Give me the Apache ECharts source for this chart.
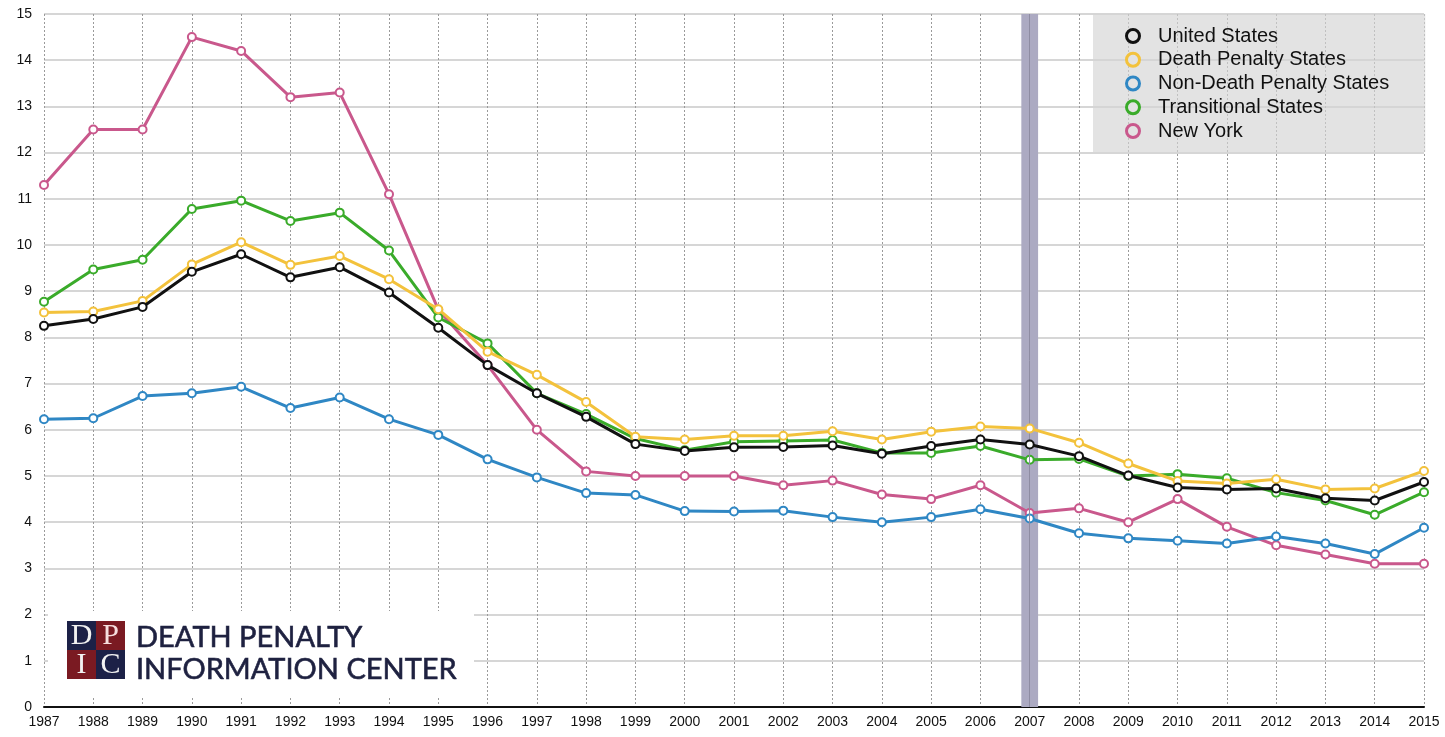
<!DOCTYPE html>
<html><head><meta charset="utf-8">
<script src="https://cdn.jsdelivr.net/npm/echarts@6/dist/echarts.min.js"></script>
<style>html,body{margin:0;padding:0;background:#fff}#c{width:1445px;height:737px}</style>
</head><body><div id="c"></div>
<script>
const years = [1987,1988,1989,1990,1991,1992,1993,1994,1995,1996,1997,1998,1999,2000,2001,2002,2003,2004,2005,2006,2007,2008,2009,2010,2011,2012,2013,2014,2015];
const seriesNames = ['United States','Death Penalty States','Non-Death Penalty States','Transitional States','New York'];
const unitedStates = [8.25,8.4,8.66,9.42,9.8,9.3,9.52,8.97,8.21,7.4,6.79,6.28,5.69,5.54,5.62,5.63,5.66,5.48,5.65,5.79,5.68,5.43,5.01,4.75,4.71,4.73,4.52,4.47,4.87];
const deathPenaltyStates = [8.54,8.56,8.79,9.58,10.06,9.57,9.76,9.26,8.61,7.69,7.19,6.6,5.85,5.79,5.87,5.87,5.97,5.79,5.96,6.07,6.03,5.72,5.27,4.89,4.84,4.93,4.71,4.73,5.11];
const nonDeathPenaltyStates = [6.23,6.25,6.73,6.79,6.93,6.47,6.7,6.23,5.89,5.36,4.97,4.63,4.59,4.24,4.23,4.25,4.11,4.0,4.11,4.28,4.08,3.76,3.65,3.6,3.54,3.69,3.54,3.31,3.88];
const transitionalStates = [8.77,9.47,9.68,10.78,10.96,10.52,10.7,9.88,8.43,7.87,6.79,6.34,5.81,5.56,5.74,5.76,5.78,5.5,5.5,5.65,5.35,5.37,5.0,5.04,4.95,4.64,4.47,4.16,4.65];
const newYork = [11.3,12.5,12.5,14.5,14.2,13.2,13.3,11.1,8.6,7.4,6.0,5.1,5.0,5.0,5.0,4.8,4.9,4.6,4.5,4.8,4.2,4.3,4.0,4.5,3.9,3.5,3.3,3.1,3.1];
const highlightYear = 2007;

const colors = ['#111111','#f3c23c','#2f87c4','#3aab2a','#c9588c'];
const values = [unitedStates, deathPenaltyStates, nonDeathPenaltyStates, transitionalStates, newYork];
const zs = [6,5,4,3,2];

const chart = echarts.init(document.getElementById('c'), null, {renderer:'canvas'});
const lineSeries = seriesNames.map((n,i)=>({
  name: n, type:'line', z: zs[i],
  data: years.map((y,k)=>[y, values[i][k]]),
  symbol:'emptyCircle', symbolSize:8,
  lineStyle:{color:colors[i], width:3},
  itemStyle:{color:colors[i], borderColor:colors[i], borderWidth:2},
  emphasis:{disabled:true}
}));
lineSeries.push({
  name:'band', type:'line', data:[], z:1, silent:true,
  markArea:{silent:true, itemStyle:{color:'#acaac2'}, data:[[{xAxis:highlightYear-0.17},{xAxis:highlightYear+0.17}]]},
  markLine:{silent:true, symbol:'none', label:{show:false}, lineStyle:{color:'#8e8ca2', width:1, type:'solid'}, data:[{xAxis:highlightYear}]}
});

const serif = '30px "Liberation Serif", serif';
chart.setOption({
  animation:false,
  backgroundColor:'#ffffff',
  grid:{left:44, right:21, top:14, bottom:30, containLabel:false},
  xAxis:{type:'value', min:1987, max:2015, interval:1,
    axisLine:{show:true, lineStyle:{color:'#111', width:2}},
    axisTick:{show:false},
    axisLabel:{color:'#111', fontSize:14, fontFamily:'Liberation Sans, Arial, sans-serif', margin:8, formatter:v=>String(v)},
    splitLine:{show:true, lineStyle:{color:'#9a9a9a', width:1, type:[2,2]}}
  },
  yAxis:{type:'value', min:0, max:15, interval:1,
    axisLine:{show:false}, axisTick:{show:false},
    axisLabel:{color:'#111', fontSize:14, fontFamily:'Liberation Sans, Arial, sans-serif', margin:12},
    splitLine:{show:true, lineStyle:{color:'#c9c9c9', width:1.5}}
  },
  legend:{
    orient:'vertical', left:1093, top:14,
    padding:[12,36,11,32],
    backgroundColor:'rgba(212,212,212,0.65)',
    itemWidth:40, itemHeight:13, itemGap:3.75,
    icon:'circle',
    textStyle:{fontSize:20, lineHeight:20, color:'#111', fontFamily:'Liberation Sans, Arial, sans-serif'},
    data: seriesNames.map((n,i)=>({name:n, icon:'circle', itemStyle:{color:'#e3e3e3', borderColor:colors[i], borderWidth:3}})),
    selectedMode:false
  },
  graphic:[
    {type:'rect', x:48, y:611, silent:true, z:10, shape:{width:426, height:86}, style:{fill:'#ffffff'}},
    {type:'rect', x:67, y:621, silent:true, z:11, shape:{width:29, height:29}, style:{fill:'#1c2147'}},
    {type:'rect', x:96, y:621, silent:true, z:11, shape:{width:29, height:29}, style:{fill:'#7a1a22'}},
    {type:'rect', x:67, y:650, silent:true, z:11, shape:{width:29, height:29}, style:{fill:'#7a1a22'}},
    {type:'rect', x:96, y:650, silent:true, z:11, shape:{width:29, height:29}, style:{fill:'#1c2147'}},
    {type:'text', x:81.5, y:636, silent:true, z:12, style:{text:'D', fill:'#f2f2f2', font:serif, align:'center', verticalAlign:'middle'}},
    {type:'text', x:110.5, y:636, silent:true, z:12, style:{text:'P', fill:'#f6dede', font:serif, align:'center', verticalAlign:'middle'}},
    {type:'text', x:81.5, y:665, silent:true, z:12, style:{text:'I', fill:'#f2f2f2', font:serif, align:'center', verticalAlign:'middle'}},
    {type:'text', x:110.5, y:665, silent:true, z:12, style:{text:'C', fill:'#f2f2f2', font:serif, align:'center', verticalAlign:'middle'}},
    {type:'text', x:136, y:622, silent:true, z:12, style:{text:'DEATH PENALTY\nINFORMATION CENTER', fill:'#1e2140', stroke:'#1e2140', lineWidth:0.6, font:'29px Lato, sans-serif', lineHeight:32}}
  ],
  series: lineSeries
});
</script>
</body></html>
